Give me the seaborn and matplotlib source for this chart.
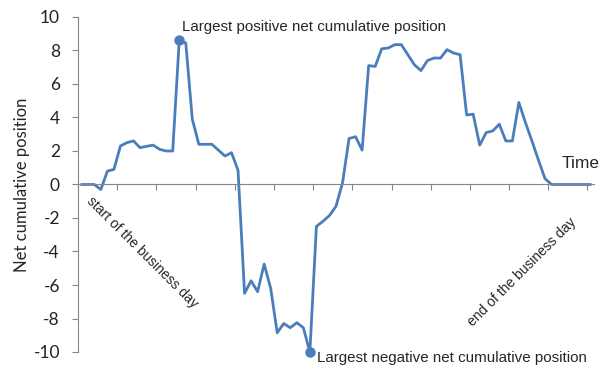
import numpy as np
import pandas as pd
import matplotlib
matplotlib.use('Agg')
import matplotlib.pyplot as plt
import seaborn as sns

# net cumulative position per time slot
position = [0, 0, 0, -0.3, 0.8, 0.9, 2.3, 2.5, 2.6, 2.2,
            2.28, 2.35, 2.1, 2.0, 2.0, 8.6, 8.45, 3.9, 2.4, 2.4,
            2.4, 2.05, 1.7, 1.9, 0.85, -6.5, -5.75, -6.4, -4.75, -6.2,
            -8.85, -8.3, -8.55, -8.25, -8.55, -10.0, -2.5, -2.2, -1.85, -1.3,
            0.1, 2.75, 2.85, 2.05, 7.1, 7.05, 8.1, 8.15, 8.35, 8.35,
            7.75, 7.15, 6.8, 7.4, 7.55, 7.55, 8.05, 7.85, 7.75, 4.15,
            4.2, 2.35, 3.1, 3.2, 3.6, 2.6, 2.6, 4.9, 3.7, 2.6,
            1.45, 0.35, 0, 0, 0, 0, 0, 0, 0]
slot = list(range(len(position)))
y_ticks = [-10, -8, -6, -4, -2, 0, 2, 4, 6, 8, 10]

df = pd.DataFrame({'slot': slot, 'position': position})
imax = int(np.argmax(position))
imin = int(np.argmin(position))

sns.set_style('white')
plt.rcParams['font.family'] = ['Liberation Sans', 'DejaVu Sans']

blue = '#4a7ebb'
grey = '#868686'

fig = plt.figure(figsize=(6.05, 3.73), dpi=100)
ax = fig.add_axes([78 / 605, 1 - 352 / 373, (594 - 78) / 605, (352 - 17) / 373])

sns.lineplot(data=df, x='slot', y='position', ax=ax, color=blue, linewidth=2.0)
ax.plot([imax, imin], [position[imax], position[imin]], 'o', color=blue,
        markersize=6.5, clip_on=False, zorder=5)

ax.set_xlim(-0.5, len(position) - 0.5)
ax.set_ylim(-10, 10)
ax.set_yticks(y_ticks)
ax.set_yticklabels([str(v) for v in y_ticks], fontfamily='Lato', fontsize=12.5)
ax.set_xticks(np.arange(-0.5, len(position), 6))
ax.set_xticklabels([])
ax.set_xlabel('')
ax.set_ylabel('Net cumulative position', fontfamily='Lato', fontsize=12, labelpad=2.5)

for s in ['top', 'right']:
    ax.spines[s].set_visible(False)
ax.spines['bottom'].set_position(('data', 0))
for s in ['left', 'bottom']:
    ax.spines[s].set_color(grey)
    ax.spines[s].set_linewidth(0.8)
ax.tick_params(axis='both', bottom=True, left=True, direction='out', length=4,
               color=grey, width=0.8)
ax.tick_params(axis='y', pad=9, labelcolor='#222222')

ax.annotate('Largest positive net cumulative position', xy=(imax, position[imax]),
            xytext=(2, 9.5), textcoords='offset points', ha='left', va='center',
            fontsize=10.9, annotation_clip=False)
ax.annotate('Largest negative net cumulative position', xy=(imin, position[imin]),
            xytext=(5, -4.5), textcoords='offset points', ha='left', va='center',
            fontsize=10.9, annotation_clip=False)

fig.text(581 / 605, 1 - 163 / 373, 'Time', ha='center', va='center', fontsize=12.5)
fig.text(142 / 605, 1 - 252 / 373, 'start of the business day', ha='center', va='center',
         rotation=-45, rotation_mode='anchor', fontsize=10)
fig.text(522 / 605, 1 - 272 / 373, 'end of the business day', ha='center', va='center',
         rotation=45, rotation_mode='anchor', fontsize=10)

fig.savefig('out.png', dpi=100)
